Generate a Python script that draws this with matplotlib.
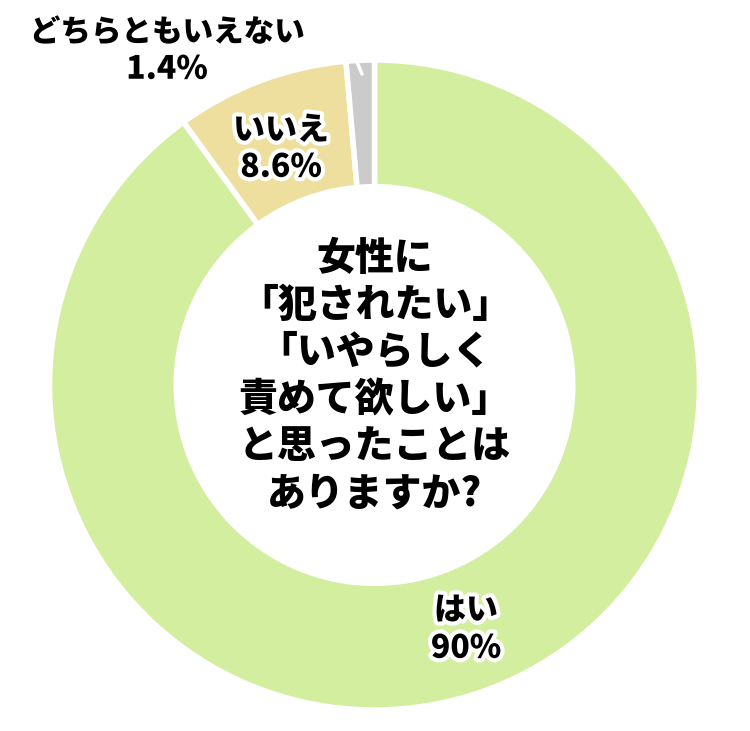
import numpy as np
import matplotlib
matplotlib.use('Agg')
import matplotlib.pyplot as plt
import matplotlib.patheffects as pe

plt.rcParams['font.family'] = ['Noto Sans CJK JP', 'DejaVu Sans']

# data
labels = ['はい', 'いいえ', 'どちらともいえない']
values = [90, 8.6, 1.4]
pct_text = ['90%', '8.6%', '1.4%']
colors = ['#d3ee9e', '#eedf9e', '#cbcbcb']
question = '女性に\n「犯されたい」\n「いやらしく\n責めて欲しい」\nと思ったことは\nありますか?'

W, H = 750, 731
fig = plt.figure(figsize=(W / 100, H / 100), dpi=100)
cx, cy, R = 374.5, 385, 325
ax = fig.add_axes([(cx - R) / W, (H - cy - R) / H, 2 * R / W, 2 * R / H])

# clockwise from 12 o'clock
wedges, _ = ax.pie(values, colors=colors, startangle=90, counterclock=False,
                   radius=1, wedgeprops=dict(width=0.39, edgecolor='white', linewidth=4))
ax.set_xlim(-1, 1)
ax.set_ylim(-1, 1)
ax.axis('off')

outline = [pe.withStroke(linewidth=6, foreground='white')]

def px(x, y):
    # pixel position (from top left) -> data coordinates
    return (x - cx) / R, (cy - y) / R

# label positions in pixels
pos = {'はい': (466, 610, 648), 'いいえ': (281, 130, 167), 'どちらともいえない': (167, 32, 69)}
sizes = {'はい': 23, 'いいえ': 23, 'どちらともいえない': 22}
for lab, pt in zip(labels, pct_text):
    x, y1, y2 = pos[lab]
    ax.text(*px(x, y1), lab, ha='center', va='center', fontsize=sizes[lab],
            fontweight='heavy', color='black', path_effects=outline, clip_on=False)
    ax.text(*px(x, y2), pt, ha='center', va='center', fontsize=23,
            fontweight='heavy', color='black', path_effects=outline, clip_on=False)

# small leader for the grey slice
x0, y0 = px(357, 62)
x1, y1 = px(362, 74)
ax.plot([x0, x1], [y0, y1], color='white', lw=2.5, solid_capstyle='round')

ax.text(*px(375, 376), question, ha='center', va='center', fontsize=28,
        fontweight='heavy', color='black', linespacing=1.24)

fig.savefig('out.png', dpi=100)
